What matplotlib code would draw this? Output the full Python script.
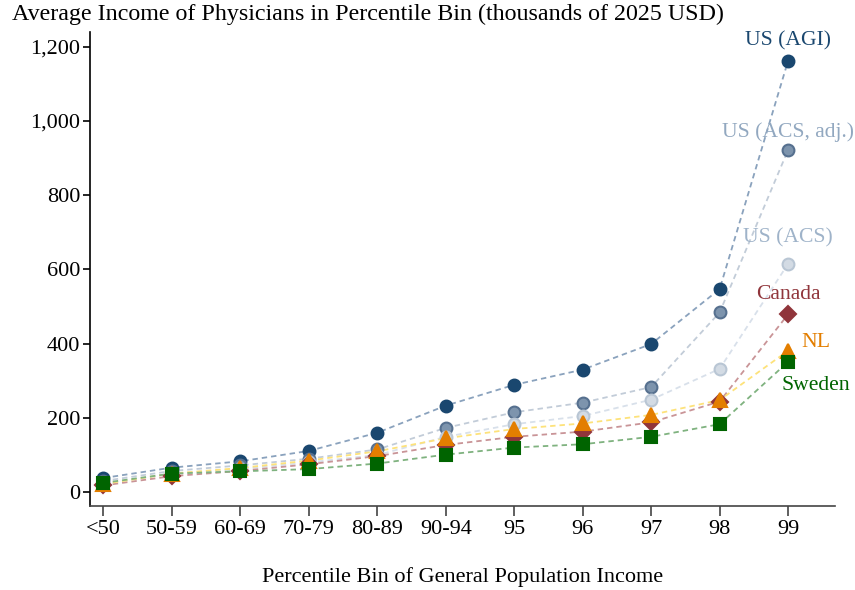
import numpy as np
import matplotlib
matplotlib.use('Agg')
import matplotlib.pyplot as plt
from matplotlib.ticker import FuncFormatter

plt.rcParams['font.family'] = ['Liberation Serif', 'DejaVu Serif']

bins = ['<50', '50-59', '60-69', '70-79', '80-89', '90-94',
        '95', '96', '97', '98', '99']

us_agi = [38, 66, 83, 111, 160, 233, 289, 330, 399, 547, 1162]
us_acs_adj = [30, 57, 72, 90, 115, 173, 215, 241, 283, 484, 922]
us_acs = [22, 50, 62, 80, 100, 149, 183, 205, 249, 332, 615]
canada = [18, 43, 57, 75, 97, 127, 149, 163, 188, 244, 479]
nl = [22, 50, 65, 85, 110, 145, 170, 185, 208, 248, 381]
sweden = [25, 50, 56, 62, 77, 101, 120, 129, 149, 183, 351]

navy = '#1a476f'
maroon = '#90353b'
orange = '#e37e00'
green = '#006400'

# (values, marker, face, edge, line colour, label, label colour, label pos)
series = [
    (us_agi, 'o', navy, navy, '#8aa2bd', 'US (AGI)', navy, (10, 1215)),
    (us_acs_adj, 'o', '#7d94ad', '#56708f', '#c2ccd8', 'US (ACS, adj.)',
     '#92a8c0', (10, 970)),
    (us_acs, 'o', '#d3dbe4', '#b9c6d4', '#d8e0ea', 'US (ACS)',
     '#9fb3c9', (10, 684)),
    (canada, 'D', maroon, maroon, '#c99497', 'Canada', maroon, (10, 532)),
    (nl, '^', orange, orange, '#fde27a', 'NL', orange, (10.4, 403)),
    (sweden, 's', green, green, '#7fb27f', 'Sweden', green, (10.4, 286)),
]

x = np.arange(len(bins))

fig = plt.figure(figsize=(8.55, 5.9), dpi=100)
ax = fig.add_axes([0.105, 0.142, 0.872, 0.804])

for vals, mk, fc, ec, lc, lab, tc, pos in series:
    ax.plot(x, vals, linestyle=(0, (3, 2.2)), color=lc, lw=1.3, zorder=1)
for vals, mk, fc, ec, lc, lab, tc, pos in series:
    size = {'o': 8.5, 'D': 8, '^': 10, 's': 8.5}[mk]
    ax.plot(x, vals, linestyle='none', marker=mk, ms=size,
            markerfacecolor=fc, markeredgecolor=ec, markeredgewidth=1.5,
            zorder=3)
    ax.text(pos[0], pos[1], lab, color=tc, fontsize=15.6,
            ha='center', va='center')

ax.set_xlim(-0.2, 10.69)
ax.set_ylim(-38, 1240)
ax.set_xticks(x)
ax.set_xticklabels(bins)
ax.set_yticks([0, 200, 400, 600, 800, 1000, 1200])
ax.yaxis.set_major_formatter(FuncFormatter(lambda v, p: f'{int(v):,}'))

for side in ['top', 'right']:
    ax.spines[side].set_visible(False)
ax.spines['left'].set_linewidth(1.2)
ax.spines['bottom'].set_linewidth(1.2)
ax.spines['bottom'].set_color('#444444')
ax.tick_params(axis='both', labelsize=16, direction='out', width=1.2)
ax.tick_params(axis='x', length=7, pad=3, color='#444444')
ax.tick_params(axis='y', length=5, pad=2)

ax.set_xlabel('Percentile Bin of General Population Income',
              fontsize=16, labelpad=20)
fig.text(0.014, 0.976,
         'Average Income of Physicians in Percentile Bin '
         '(thousands of 2025 USD)',
         fontsize=17.3, ha='left', va='center')

fig.savefig('out.png', dpi=100)
